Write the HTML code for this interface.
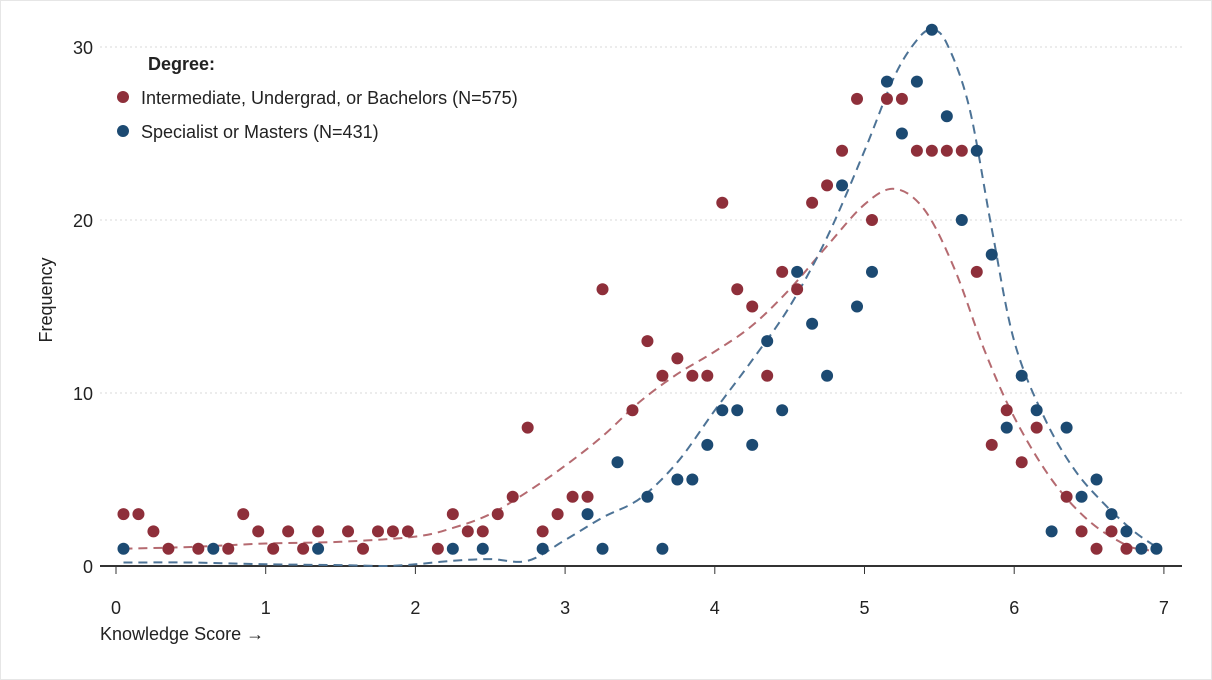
<!DOCTYPE html>
<html><head><meta charset="utf-8">
<style>
html,body{margin:0;padding:0;background:#fff;}
svg{display:block;font-family:"Liberation Sans",Arial,sans-serif;}
</style></head>
<body>
<svg id="chart" width="1212" height="680" viewBox="0 0 1212 680" xmlns="http://www.w3.org/2000/svg">
<rect x="0.5" y="0.5" width="1211" height="679" fill="#fff" stroke="#e6e6e6"/>
<g id="grid"></g>
<g id="axes"></g>
<g id="curves"></g>
<g id="dots"></g>
<text x="0" y="0" transform="translate(52,300) rotate(-90)" text-anchor="middle" font-size="18" fill="#222">Frequency</text>
<text x="100" y="640" font-size="18" fill="#222">Knowledge Score →</text>
<g>
<text x="148" y="70" font-size="18" font-weight="bold" fill="#222">Degree:</text>
<g>
<circle cx="123" cy="97" r="6" fill="#8e2f3a"/>
<text x="141" y="104" font-size="18" fill="#222">Intermediate, Undergrad, or Bachelors (N=575)</text></g>
<g>
<circle cx="123" cy="131" r="6" fill="#1c4a72"/>
<text x="141" y="138" font-size="18" fill="#222">Specialist or Masters (N=431)</text></g>
</g>
</svg>
<script>
const xTicks=[0,1,2,3,4,5,6,7];
const yTicks=[0,10,20,30];
const redX=[0.05,0.15,0.25,0.35,0.55,0.75,0.85,0.95,1.05,1.15,1.25,1.35,1.55,1.65,1.75,1.85,1.95,2.15,2.25,2.35,2.45,2.55,2.65,2.75,2.85,2.95,3.05,3.15,3.25,3.45,3.55,3.65,3.75,3.85,3.95,4.05,4.15,4.25,4.35,4.45,4.55,4.65,4.75,4.85,4.95,5.05,5.15,5.25,5.35,5.45,5.55,5.65,5.75,5.85,5.95,6.05,6.15,6.35,6.45,6.55,6.65,6.75];
const redY=[3,3,2,1,1,1,3,2,1,2,1,2,2,1,2,2,2,1,3,2,2,3,4,8,2,3,4,4,16,9,13,11,12,11,11,21,16,15,11,17,16,21,22,24,27,20,27,27,24,24,24,24,17,7,9,6,8,4,2,1,2,1];
const blueX=[0.05,0.65,1.35,2.25,2.45,2.85,3.15,3.25,3.35,3.55,3.65,3.75,3.85,3.95,4.05,4.15,4.25,4.35,4.45,4.55,4.65,4.75,4.85,4.95,5.05,5.15,5.25,5.35,5.45,5.55,5.65,5.75,5.85,5.95,6.05,6.15,6.25,6.35,6.45,6.55,6.65,6.75,6.85,6.95];
const blueY=[1,1,1,1,1,1,3,1,6,4,1,5,5,7,9,9,7,13,9,17,14,11,22,15,17,28,25,28,31,26,20,24,18,8,11,9,2,8,4,5,3,2,1,1];
const redFitX=[0.05,0.5,1,1.5,2,2.25,2.5,2.75,3,3.25,3.5,3.75,4,4.25,4.5,4.75,5,5.2,5.4,5.6,5.8,6,6.25,6.5,6.75,6.9];
const redFitY=[1,1.1,1.3,1.4,1.7,2.2,3,4.3,5.8,7.5,9.5,11.1,12.4,13.9,16,18.5,20.9,21.8,20.6,17.2,12.5,8.6,5,2.6,1.2,0.9];
const blueFitX=[0.05,0.5,1,1.5,1.8,2,2.25,2.5,2.75,3,3.25,3.5,3.75,4,4.25,4.5,4.75,5,5.2,5.35,5.45,5.55,5.7,5.85,6,6.2,6.4,6.6,6.8,6.95];
const blueFitY=[0.2,0.2,0.1,0.05,0,0.1,0.3,0.4,0.3,1.5,2.8,3.9,6,9,11.9,15,19,24,28.3,30.4,31,30.2,26.5,19.5,13,8.6,5.6,3.6,2,1.1];
const NS='http://www.w3.org/2000/svg';
const X=v=>116+v*149.7, Y=v=>566-v*17.3;
function mk(t,a,p){const e=document.createElementNS(NS,t);for(const k in a)e.setAttribute(k,a[k]);p.appendChild(e);return e;}
const grid=document.getElementById('grid'),axes=document.getElementById('axes'),curves=document.getElementById('curves'),dots=document.getElementById('dots');
yTicks.forEach(v=>{
 if(v>0){const g=mk('line',{x1:100,x2:1182,y1:Y(v),y2:Y(v),stroke:'#d8d8d8','stroke-dasharray':'2,3'},grid);
 
 }
 const t=mk('text',{x:93,y:Y(v)+7,'text-anchor':'end','font-size':18,fill:'#222'},axes);t.textContent=v;
 
 
});
const base=mk('line',{x1:100,x2:1182,y1:566,y2:566,stroke:'#333','stroke-width':2},axes);


xTicks.forEach(v=>{
 const tk=mk('line',{x1:X(v),x2:X(v),y1:566,y2:574,stroke:'#333','stroke-width':1},axes);
 
 
 const t=mk('text',{x:X(v),y:614,'text-anchor':'middle','font-size':18,fill:'#222'},axes);t.textContent=v;
 
 
});
function curve(xs,ys,col,name){
 const pts=xs.map((x,i)=>[X(x),Y(ys[i])]);
 let d='M'+pts[0][0]+','+pts[0][1];
 for(let i=0;i<pts.length-1;i++){const p0=pts[Math.max(0,i-1)],p1=pts[i],p2=pts[i+1],p3=pts[Math.min(pts.length-1,i+2)];
  d+=' C'+(p1[0]+(p2[0]-p0[0])/6)+','+(p1[1]+(p2[1]-p0[1])/6)+' '+(p2[0]-(p3[0]-p1[0])/6)+','+(p2[1]-(p3[1]-p1[1])/6)+' '+p2[0]+','+p2[1];}
 const p=mk('path',{d:d,fill:'none',stroke:col,'stroke-width':2,'stroke-dasharray':'9,6'},curves);
 
 
}
curve(redFitX,redFitY,'#b56a70','fit-curve-bachelors');
curve(blueFitX,blueFitY,'#4d7396','fit-curve-masters');
function pts(xs,ys,col,name){xs.forEach((x,i)=>{
 const c=mk('circle',{cx:X(x),cy:Y(ys[i]),r:6,fill:col},dots);
 
 
});}
pts(redX,redY,'#8e2f3a','point-bachelors');
pts(blueX,blueY,'#1c4a72','point-masters');
</script>
</body></html>
